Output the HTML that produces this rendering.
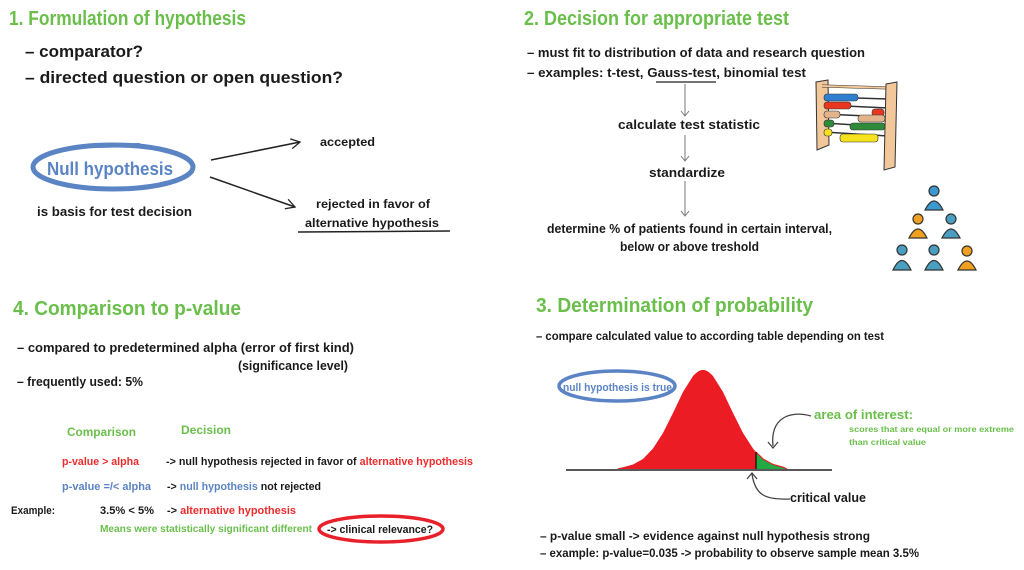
<!DOCTYPE html>
<html><head><meta charset="utf-8"><style>
html,body{margin:0;padding:0;background:#fff;width:1024px;height:570px;overflow:hidden}
svg{display:block}
text{font-family:"Liberation Sans",sans-serif;font-weight:bold;fill:#1a1a1a}
.g{fill:#6abf4b}.r{fill:#ee2c2c}.b{fill:#5b84c4}
</style></head><body>
<svg width="1024" height="570" viewBox="0 0 1024 570" xmlns="http://www.w3.org/2000/svg">
<defs>
<marker id="ah" markerWidth="12" markerHeight="12" refX="10" refY="6" orient="auto" markerUnits="userSpaceOnUse"><path d="M1,1 L10,6 L1,11" fill="none" stroke="#222" stroke-width="1.3"/></marker>
<marker id="sh" markerWidth="8" markerHeight="8" refX="4" refY="7" orient="auto" markerUnits="userSpaceOnUse"><path d="M0,2 L4,7 L8,2" fill="none" stroke="#666" stroke-width="0.9" transform="rotate(-90 4 4)"/></marker>
</defs>

<!-- Section 1 -->
<text x="9" y="25" font-size="20" class="g" textLength="237" lengthAdjust="spacingAndGlyphs">1. Formulation of hypothesis</text>
<text x="25" y="57" font-size="17" textLength="118" lengthAdjust="spacingAndGlyphs">– comparator?</text>
<text x="25" y="83" font-size="17" textLength="318" lengthAdjust="spacingAndGlyphs">– directed question or open question?</text>
<ellipse cx="113" cy="167" rx="80" ry="22" fill="none" stroke="#5b84c4" stroke-width="5"/>
<path d="M95,146 L140,145" stroke="#5b84c4" stroke-width="4"/>
<text x="47" y="175" font-size="18" class="b" textLength="126" lengthAdjust="spacingAndGlyphs">Null hypothesis</text>
<text x="37" y="216" font-size="13" textLength="155" lengthAdjust="spacingAndGlyphs">is basis for test decision</text>
<line x1="211" y1="160" x2="300" y2="142" stroke="#222" stroke-width="1.5" marker-end="url(#ah)"/>
<line x1="210" y1="177" x2="295" y2="207" stroke="#222" stroke-width="1.5" marker-end="url(#ah)"/>
<text x="320" y="146" font-size="12" textLength="55" lengthAdjust="spacingAndGlyphs">accepted</text>
<text x="316" y="208" font-size="12" textLength="114" lengthAdjust="spacingAndGlyphs">rejected in favor of</text>
<text x="305" y="227" font-size="12" textLength="134" lengthAdjust="spacingAndGlyphs">alternative hypothesis</text>
<line x1="298" y1="232" x2="450" y2="231" stroke="#222" stroke-width="1.5"/>

<!-- Section 2 -->
<text x="524" y="25" font-size="20" class="g" textLength="265" lengthAdjust="spacingAndGlyphs">2. Decision for appropriate test</text>
<text x="527" y="57" font-size="12.5" textLength="338" lengthAdjust="spacingAndGlyphs">– must fit to distribution of data and research question</text>
<text x="527" y="77" font-size="12.5" textLength="279" lengthAdjust="spacingAndGlyphs">– examples: t-test, Gauss-test, binomial test</text>
<line x1="656" y1="82" x2="716" y2="82" stroke="#222" stroke-width="1.3"/>
<g stroke="#777" stroke-width="1" fill="none">
<line x1="685" y1="84" x2="685" y2="115"/><path d="M681,111 L685,116 L689,111"/>
<line x1="685" y1="135" x2="685" y2="160"/><path d="M681,156 L685,161 L689,156"/>
<line x1="685" y1="181" x2="685" y2="215"/><path d="M681,211 L685,216 L689,211"/>
</g>
<text x="618" y="129" font-size="12.5" textLength="142" lengthAdjust="spacingAndGlyphs">calculate test statistic</text>
<text x="649" y="177" font-size="12.5" textLength="76" lengthAdjust="spacingAndGlyphs">standardize</text>
<text x="547" y="233" font-size="12.5" textLength="285" lengthAdjust="spacingAndGlyphs">determine % of patients found in certain interval,</text>
<text x="620" y="251" font-size="12.5" textLength="139" lengthAdjust="spacingAndGlyphs">below or above treshold</text>

<!-- abacus -->
<g stroke="#333" stroke-width="1">
<path d="M816,82 L828,80 L829,145 L817,150 Z" fill="#f2c79a"/>
<line x1="822" y1="86" x2="890" y2="88" stroke-width="3" stroke="#333"/>
<line x1="822" y1="86" x2="890" y2="88" stroke-width="2" stroke="#f2c79a"/>
<g stroke-width="1.5">
<line x1="824" y1="97" x2="888" y2="99"/><line x1="824" y1="105" x2="888" y2="108"/><line x1="824" y1="114" x2="888" y2="117"/><line x1="824" y1="123" x2="888" y2="127"/><line x1="824" y1="132" x2="888" y2="136"/>
</g>
<g fill="#2f7fd0" stroke-width="0.6"><rect x="824" y="94" width="34" height="7" rx="3"/></g>
<g fill="#e8361f" stroke-width="0.6"><rect x="824" y="102" width="27" height="7" rx="3"/><rect x="872" y="109" width="12" height="7" rx="3"/></g>
<g fill="#e3b48c" stroke-width="0.6"><rect x="824" y="111" width="16" height="7" rx="3"/><rect x="858" y="115" width="27" height="7" rx="3"/></g>
<g fill="#2f8a3a" stroke-width="0.6"><rect x="824" y="120" width="10" height="7" rx="3"/><rect x="850" y="123" width="35" height="7" rx="3"/></g>
<g fill="#f5e21c" stroke-width="0.6"><rect x="824" y="129" width="8" height="7" rx="3"/><rect x="840" y="134" width="38" height="8" rx="3"/></g>
<path d="M886,84 L897,82 L895,167 L884,170 Z" fill="#f2c79a"/>
</g>

<!-- people -->
<g stroke="#333" stroke-width="1.2">
<g fill="#3a9ad0"><circle cx="934" cy="191" r="5"/><path d="M925,210 Q934,192 943,210 Z"/></g>
<g fill="#f0a020"><circle cx="918" cy="219" r="5"/><path d="M909,238 Q918,220 927,238 Z"/></g>
<g fill="#4a9ec0"><circle cx="951" cy="219" r="5"/><path d="M942,238 Q951,220 960,238 Z"/></g>
<g fill="#4a9ec0"><circle cx="902" cy="250" r="5"/><path d="M893,270 Q902,251 911,270 Z"/></g>
<g fill="#4a9ec0"><circle cx="934" cy="250" r="5"/><path d="M925,270 Q934,251 943,270 Z"/></g>
<g fill="#f0a020"><circle cx="967" cy="251" r="5"/><path d="M958,270 Q967,252 976,270 Z"/></g>
</g>

<!-- Section 4 -->
<text x="13" y="315" font-size="20" class="g" textLength="228" lengthAdjust="spacingAndGlyphs">4. Comparison to p-value</text>
<text x="17" y="352" font-size="12.5" textLength="337" lengthAdjust="spacingAndGlyphs">– compared to predetermined alpha (error of first kind)</text>
<text x="238" y="370" font-size="12.5" textLength="110" lengthAdjust="spacingAndGlyphs">(significance level)</text>
<text x="17" y="386" font-size="12.5" textLength="126" lengthAdjust="spacingAndGlyphs">– frequently used: 5%</text>
<text x="67" y="436" font-size="12" class="g" textLength="69" lengthAdjust="spacingAndGlyphs">Comparison</text>
<text x="181" y="434" font-size="12" class="g" textLength="50" lengthAdjust="spacingAndGlyphs">Decision</text>
<text x="62" y="465" font-size="11" class="r" textLength="77" lengthAdjust="spacingAndGlyphs">p-value &gt; alpha</text>
<text x="166" y="465" font-size="11" textLength="307" lengthAdjust="spacingAndGlyphs">-&gt; null hypothesis rejected in favor of <tspan class="r">alternative hypothesis</tspan></text>
<text x="62" y="490" font-size="11" class="b" textLength="89" lengthAdjust="spacingAndGlyphs">p-value =/&lt; alpha</text>
<text x="167" y="490" font-size="11" textLength="154" lengthAdjust="spacingAndGlyphs">-&gt; <tspan class="b">null hypothesis</tspan> not rejected</text>
<text x="11" y="514" font-size="11" textLength="44" lengthAdjust="spacingAndGlyphs">Example:</text>
<text x="100" y="514" font-size="11" textLength="54" lengthAdjust="spacingAndGlyphs">3.5%  &lt;  5%</text>
<text x="167" y="514" font-size="11" textLength="129" lengthAdjust="spacingAndGlyphs">-&gt; <tspan class="r">alternative hypothesis</tspan></text>
<text x="100" y="532" font-size="10" class="g" textLength="212" lengthAdjust="spacingAndGlyphs">Means were statistically significant different</text>
<ellipse cx="381" cy="529" rx="62" ry="13" fill="none" stroke="#e8202a" stroke-width="3.5"/>
<text x="327" y="533" font-size="11" textLength="106" lengthAdjust="spacingAndGlyphs">-&gt; clinical relevance?</text>

<!-- Section 3 -->
<text x="536" y="312" font-size="20" class="g" textLength="277" lengthAdjust="spacingAndGlyphs">3. Determination of probability</text>
<text x="536" y="340" font-size="11.5" textLength="348" lengthAdjust="spacingAndGlyphs">– compare calculated value to according table depending on test</text>
<path d="M617,469 L619,468 L623,467.2 L633,464.5 L643,459 L653,448.5 L663,433 L673,413 L683,392 L693,376 C698,371 700,370 703,370 C706,370 708,371 713,376 L723,392 L733,413 L743,433 L753,448.5 L756,452 L756,469 Z" fill="#ec1c24"/>
<path d="M756,452 L763,459 L773,464.5 L783,467.2 L787,469 L756,469 Z" fill="#22aa44"/>
<path d="M756,452 L763,459 L773,464.5 L783,467.2 L787,469" fill="none" stroke="#ec1c24" stroke-width="1.2"/>
<line x1="756" y1="452" x2="756" y2="469" stroke="#111" stroke-width="1.3"/>
<line x1="566" y1="470" x2="832" y2="470" stroke="#222" stroke-width="1.5"/>
<ellipse cx="617" cy="386" rx="58" ry="15" fill="none" stroke="#5b84c4" stroke-width="3.5"/>
<text x="563" y="391" font-size="11" class="b" textLength="109" lengthAdjust="spacingAndGlyphs">null hypothesis is true</text>
<text x="814" y="419" font-size="13" class="g" textLength="99" lengthAdjust="spacingAndGlyphs">area of interest:</text>
<text x="849" y="432" font-size="8.5" class="g" textLength="165" lengthAdjust="spacingAndGlyphs">scores that are equal or more extreme</text>
<text x="849" y="445" font-size="8.5" class="g" textLength="77" lengthAdjust="spacingAndGlyphs">than critical value</text>
<path d="M811,416 C790,410 770,418 773,446" fill="none" stroke="#444" stroke-width="1.3"/>
<path d="M768,442 L773,448 L778,442" fill="none" stroke="#444" stroke-width="1.3"/>
<path d="M790,499 C765,500 755,495 752,474" fill="none" stroke="#444" stroke-width="1.3"/>
<path d="M747,479 L752,473 L757,479" fill="none" stroke="#444" stroke-width="1.3"/>
<text x="790" y="502" font-size="12.5" textLength="76" lengthAdjust="spacingAndGlyphs">critical value</text>
<text x="540" y="540" font-size="12" textLength="330" lengthAdjust="spacingAndGlyphs">– p-value small -&gt; evidence against null hypothesis strong</text>
<text x="540" y="557" font-size="12" textLength="379" lengthAdjust="spacingAndGlyphs">– example: p-value=0.035 -&gt; probability to observe sample mean 3.5%</text>
</svg>
</body></html>
